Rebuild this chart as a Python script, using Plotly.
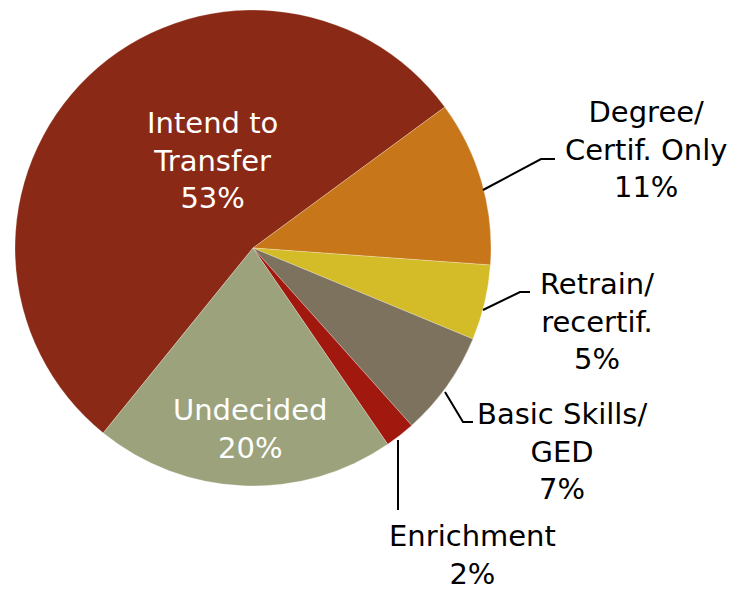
import plotly.graph_objects as go

W, H = 737, 592

categories = ["Intend to Transfer", "Degree/ Certif. Only", "Retrain/ recertif.",
              "Basic Skills/ GED", "Enrichment", "Undecided"]
values = [53, 11, 5, 7, 2, 20]
label_lines = [["Intend to", "Transfer"], ["Degree/", "Certif. Only"], ["Retrain/", "recertif."],
               ["Basic Skills/", "GED"], ["Enrichment"], ["Undecided"]]
colors = ["#8A2A16", "#C8761A", "#D4BC28", "#7C725E", "#A0180E", "#9CA37C"]

FONT = "DejaVu Sans"
FS = 29

def px(x):
    return x / W

def py(y):
    return 1 - y / H

fig = go.Figure(go.Pie(
    labels=categories,
    values=values,
    sort=False,
    direction="clockwise",
    rotation=219,
    marker=dict(colors=colors, line=dict(color="rgba(255,255,255,0.25)", width=1)),
    textinfo="none",
    hoverinfo="label+percent",
    showlegend=False,
    domain=dict(x=[px(15), px(491)], y=[py(486), py(10)]),
))

# label placements (pixel centers of text block) and colors
label_pos = [(212, 161, "white"), (646, 149, "black"), (597, 321, "black"),
             (562, 451, "black"), (472, 555, "black"), (250, 429, "white")]

annotations = []
for lines, v, (x, y, c) in zip(label_lines, values, label_pos):
    text = "<br>".join(lines + [f"{v}%"])
    annotations.append(dict(
        x=px(x), y=py(y), xref="paper", yref="paper", text=text, showarrow=False,
        xanchor="center", yanchor="middle", align="center",
        font=dict(family=FONT, size=FS, color=c),
    ))

# leader lines (pixel coords)
leaders = [
    [(483, 190), (541, 159), (555, 159)],
    [(483, 310), (520, 292), (530, 292)],
    [(445, 392), (463, 422), (473, 422)],
    [(398, 440), (398, 510)],
]
shapes = []
for pts in leaders:
    path = "M " + " L ".join(f"{px(x)},{py(y)}" for x, y in pts)
    shapes.append(dict(type="path", path=path, xref="paper", yref="paper",
                       line=dict(color="black", width=2)))

fig.update_layout(
    width=W, height=H,
    margin=dict(l=0, r=0, t=0, b=0),
    paper_bgcolor="white",
    plot_bgcolor="white",
    annotations=annotations,
    shapes=shapes,
)

fig.write_html("out.html", config={"displayModeBar": False},
               post_script="document.body.style.margin='0';")
